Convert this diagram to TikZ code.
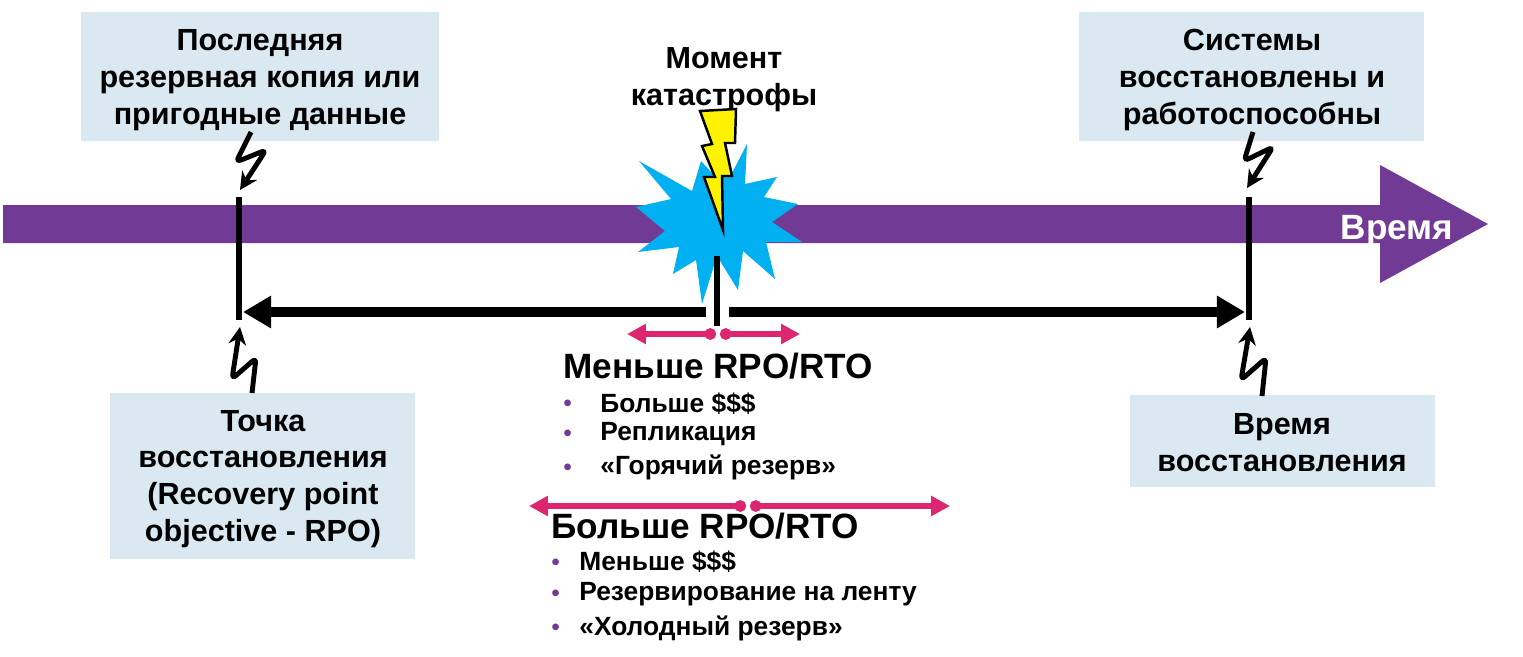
\documentclass[tikz,border=0pt]{standalone}
\usepackage{fontspec}
\setmainfont{Liberation Sans}
\usetikzlibrary{arrows.meta}
\definecolor{boxblue}{HTML}{DAE9F1}
\definecolor{timeline}{HTML}{713A94}
\definecolor{burst}{HTML}{00B0F0}
\definecolor{spancol}{HTML}{DC2670}
\tikzstyle{infobox} = [rectangle, inner sep=0pt, fill=boxblue, align=center, text=black]
\tikzstyle{boxtext} = [font=\fontsize{17.4}{21}\selectfont\bfseries]
\tikzstyle{listtitle} = [inner sep=0pt, anchor=west, font=\fontsize{20}{22}\selectfont\bfseries]
\tikzstyle{listitem} = [inner sep=0pt, anchor=west, font=\fontsize{15}{17}\selectfont\bfseries]
\tikzstyle{listdot} = [inner sep=0pt, anchor=west, text=timeline, font=\fontsize{14}{17}\selectfont]
\tikzstyle{tickline} = [line width=3pt]
\tikzstyle{zap} = [line width=2.8pt, rounded corners=3pt, -{Stealth[length=10pt,width=10pt]}]
\tikzstyle{period} = [line width=6.2pt, -{Triangle[length=16pt,width=17.5pt]}]
\tikzstyle{spanline} = [line width=3.6pt, spancol, {Circle[length=6.5pt,width=6.5pt]}-{Triangle[length=10.8pt,width=11pt]}]

\begin{document}
\begin{tikzpicture}[x=0.02cm,y=-0.02cm]
\useasboundingbox (0,0) rectangle (1523,656);

% time axis
\fill [timeline] (3,205) -- (1380,205) -- (1380,165) -- (1488,224) -- (1380,283) -- (1380,243) -- (3,243) -- cycle;
\node (time) at (1397,231) [inner sep=0pt, text=white, font=\fontsize{20}{22}\selectfont\bfseries] {Время};

% boxes
\node (backup) at (260,76.5) [infobox, minimum width=7.16cm, minimum height=2.58cm] {};
\node (restored) at (1251.5,76.5) [infobox, minimum width=6.9cm, minimum height=2.58cm] {};
\node (rpo) at (262.5,476) [infobox, minimum width=6.1cm, minimum height=3.32cm] {};
\node (rto) at (1282.5,441) [infobox, minimum width=6.1cm, minimum height=1.84cm] {};
\node (backuptext) at (260,80) [inner sep=0pt, align=center, boxtext] {Последняя\\резервная копия или\\пригодные данные};
\node (restoredtext) at (1252,80) [inner sep=0pt, align=center, boxtext] {Системы\\восстановлены и\\работоспособны};
\node (rpotext) at (263,479) [inner sep=0pt, align=center, boxtext] {Точка\\восстановления\\(Recovery point\\ objective - RPO)};
\node (rtotext) at (1282,443) [inner sep=0pt, align=center, boxtext] {Время\\восстановления};
\node (moment) at (724,80) [inner sep=0pt, align=center, boxtext] {Момент\\катастрофы};

% burst and bolt
\fill [burst] (639,161) -- (692,191) -- (701,161) -- (712,173) -- (731,175) -- (747,144) -- (745,184) -- (777,177) -- (764,197) -- (798,204) -- (772,222) -- (802,242) -- (766,242) -- (775,279) -- (743,251) -- (738,290) -- (717,256) -- (702,304) -- (696,260) -- (673,274) -- (679,247) -- (638,252) -- (665,231) -- (636,207) -- (671,199) -- cycle;
\draw [line width=1.4pt, fill=yellow, line join=miter] (700,111) -- (736,109) -- (735,143) -- (725,143) -- (732,176) -- (722,176) -- (723,230) -- (704,177) -- (715,177) -- (702,146) -- (712,144) -- cycle;

% ticks
\coordinate (tickla) at (239,197);
\coordinate (ticklb) at (239,320);
\coordinate (tickra) at (1249,197);
\coordinate (tickrb) at (1249,320);
\coordinate (tickma) at (717,256);
\coordinate (tickmb) at (717,326);
\coordinate (perioda) at (706,312);
\coordinate (periodb) at (729,312);
\draw [tickline] (tickla) -- (ticklb);
\draw [tickline] (tickra) -- (tickrb);
\draw [tickline] (tickma) -- (tickmb);
\draw [period] (perioda) -- (243,312);
\draw [period] (periodb) -- (1245,312);

% lightning connectors
\coordinate (zapa) at (251,132);
\coordinate (zapb) at (1253,132);
\coordinate (zapc) at (252,393);
\coordinate (zapd) at (1262,396);
\draw [zap] (zapa) -- (236,162) -- (266,150) -- (240,190);
\draw [zap] (zapb) -- (1244,161) -- (1273,147) -- (1247,188);
\draw [zap] (zapc) -- (256,358) -- (232,379) -- (240,327);
\draw [zap] (zapd) -- (1266,358) -- (1241,380) -- (1250,327);

% short ranges
\coordinate (rangea) at (716,334);
\coordinate (rangeb) at (720,334);
\coordinate (rangec) at (746,506);
\coordinate (ranged) at (750,506);
\draw [spanline] (rangea) -- (627,334);
\draw [spanline] (rangeb) -- (800,334);
\draw [spanline] (rangec) -- (529,506);
\draw [spanline] (ranged) -- (950,506);

% lists
\node (less) at (563,366) [listtitle] {Меньше RPO/RTO};
\node (d1) at (563,406) [listdot] {•};
\node (d2) at (563,436) [listdot] {•};
\node (d3) at (563,470) [listdot] {•};
\node (i1) at (600,404) [listitem] {Больше \$\$\$};
\node (i2) at (600,434) [listitem] {Репликация};
\node (i3) at (600,467) [listitem] {«Горячий резерв»};
\node (more) at (551,526) [listtitle] {Больше RPO/RTO};
\node (d4) at (551,565) [listdot] {•};
\node (d5) at (551,596) [listdot] {•};
\node (d6) at (551,630) [listdot] {•};
\node (i4) at (579,562) [listitem] {Меньше \$\$\$};
\node (i5) at (579,594) [listitem] {Резервирование на ленту};
\node (i6) at (579,628) [listitem] {«Холодный резерв»};

\end{tikzpicture}
\end{document}
